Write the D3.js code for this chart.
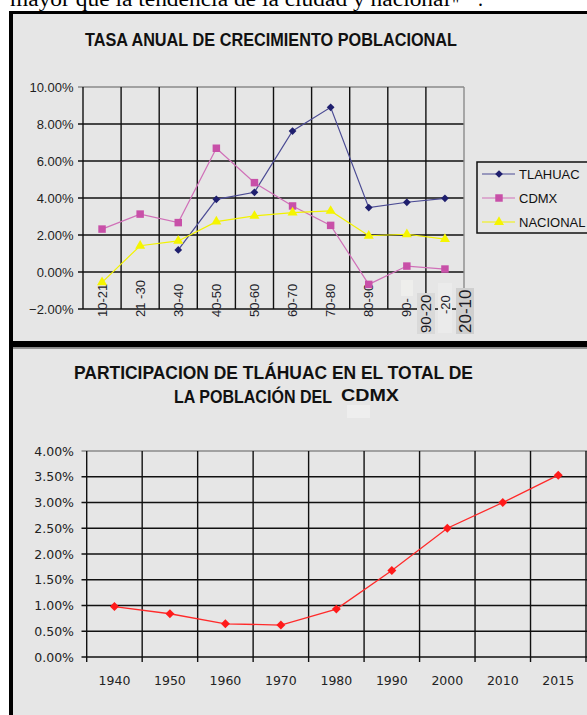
<!DOCTYPE html>
<html>
<head>
<meta charset="utf-8">
<script src="https://cdn.jsdelivr.net/npm/d3@7"></script>
<style>
  body { margin: 0; background: #fff; }
  svg { display: block; }
</style>
</head>
<body>
<svg id="chart" width="587" height="715"></svg>
<script>
// top chart: tasa anual de crecimiento
const periods = ['10-21', '21 -30', '30-40', '40-50', '50-60', '60-70', '70-80', '80-90', '90-', '-20'];
const tlahuac = [null, null, 0.0119, 0.0393, 0.0431, 0.0762, 0.089, 0.0348, 0.0377, 0.0398];
const cdmx = [0.0232, 0.0313, 0.0267, 0.0669, 0.0483, 0.0357, 0.0252, -0.0067, 0.0032, 0.0016];
const nacional = [-0.0056, 0.0142, 0.0168, 0.0272, 0.0303, 0.0321, 0.033, 0.0196, 0.0204, 0.0178];
const topTicks = [-0.02, 0, 0.02, 0.04, 0.06, 0.08, 0.10];

// bottom chart: participacion de tlahuac
const years = ['1940', '1950', '1960', '1970', '1980', '1990', '2000', '2010', '2015'];
const participacion = [0.0098, 0.0084, 0.00645, 0.0062, 0.0093, 0.0168, 0.025, 0.030, 0.0353];
const bottomTicks = [0, 0.005, 0.01, 0.015, 0.02, 0.025, 0.03, 0.035, 0.04];

const panelFill = '#e6e6e6';
const svg = d3.select('#chart');

// text running above the figure, cut by the page top
svg.append('text')
    .attr('x', 10)
    .attr('y', 6)
    .attr('textLength', 440)
    .attr('lengthAdjust', 'spacingAndGlyphs')
    .style('font', '20px "Liberation Serif", serif')
    .text('mayor que la tendencia de la ciudad y nacional');
svg.append('text')
    .attr('x', 452).attr('y', 11)
    .style('font', '18px "Liberation Serif", serif')
    .text('"');
svg.append('text')
    .attr('x', 478).attr('y', 6)
    .style('font', '20px "Liberation Serif", serif')
    .text('.');

// panels and black frame
svg.append('rect').attr('x', 9).attr('y', 11).attr('width', 578).attr('height', 704).attr('fill', '#000');
svg.append('rect').attr('x', 13).attr('y', 14).attr('width', 574).attr('height', 327).attr('fill', panelFill);
svg.append('rect').attr('x', 13).attr('y', 347).attr('width', 574).attr('height', 1.5).attr('fill', '#8a8a8a');
svg.append('rect').attr('x', 13).attr('y', 348.5).attr('width', 574).attr('height', 367).attr('fill', panelFill);

const fmt = d3.format('.2%');

function boldTitle(text, x, y, width, size) {
    svg.append('text')
        .attr('x', x)
        .attr('y', y)
        .attr('textLength', width)
        .attr('lengthAdjust', 'spacingAndGlyphs')
        .style('font', `bold ${size}px "Liberation Sans", Arial, sans-serif`)
        .attr('fill', '#111')
        .text(text);
}

// ---------- top chart ----------
const xTop = d3.scaleBand().domain(periods).range([83, 464]);
const yTop = d3.scaleLinear().domain([-0.02, 0.10]).range([309, 87]);
const cx = p => xTop(p) + xTop.bandwidth() / 2;

boldTitle('TASA ANUAL DE CRECIMIENTO POBLACIONAL', 85, 46, 372, 18);

const gTop = svg.append('g');

gTop.selectAll('line.h')
    .data(topTicks)
    .join('line')
    .attr('x1', 78).attr('x2', 464)
    .attr('y1', d => yTop(d)).attr('y2', d => yTop(d))
    .attr('stroke', d => d === 0.10 ? '#8a8a8a' : '#111')
    .attr('stroke-width', 1.4);

gTop.selectAll('line.v')
    .data(periods.slice(1))
    .join('line')
    .attr('x1', d => xTop(d)).attr('x2', d => xTop(d))
    .attr('y1', yTop(0.10)).attr('y2', yTop(-0.02))
    .attr('stroke', '#111')
    .attr('stroke-width', 1.4);

gTop.append('line')
    .attr('x1', 464).attr('x2', 464)
    .attr('y1', yTop(0.10)).attr('y2', yTop(-0.02))
    .attr('stroke', '#8a8a8a').attr('stroke-width', 1.4);
gTop.append('line')
    .attr('x1', 83).attr('x2', 83)
    .attr('y1', yTop(0.10)).attr('y2', yTop(-0.02))
    .attr('stroke', '#111').attr('stroke-width', 1.4);

gTop.selectAll('text.y')
    .data(topTicks)
    .join('text')
    .attr('x', 73.5)
    .attr('y', d => yTop(d))
    .attr('dy', '0.36em')
    .attr('text-anchor', 'end')
    .attr('fill', '#1e1e1e')
    .style('font', '13px "Liberation Sans", Arial, sans-serif')
    .text(fmt);

// patches left over in the picture round the last labels
gTop.append('rect').attr('x', 401).attr('y', 280).attr('width', 12).attr('height', 16).attr('fill', '#eeeeec');
gTop.append('rect').attr('x', 438).attr('y', 283).attr('width', 14).attr('height', 50).attr('fill', '#ebebeb');
gTop.append('rect').attr('x', 417).attr('y', 293).attr('width', 18).attr('height', 41).attr('fill', '#d9d9d9');
gTop.append('rect').attr('x', 456).attr('y', 288).attr('width', 18).attr('height', 46).attr('fill', '#cfcfcf');

gTop.selectAll('text.x')
    .data(periods)
    .join('text')
    .attr('transform', d => `translate(${cx(d)},${d === '-20' ? 314 : 317}) rotate(-90)`)
    .attr('dy', '0.35em')
    .attr('fill', '#1e1e2a')
    .style('font', '13px "Liberation Sans", Arial, sans-serif')
    .text(d => d);

gTop.append('text')
    .attr('transform', 'translate(426,333) rotate(-90)')
    .attr('dy', '0.35em')
    .attr('fill', '#1a1a22')
    .style('font', '15px "Liberation Sans", Arial, sans-serif')
    .text('90-20');
gTop.append('text')
    .attr('transform', 'translate(465.5,333) rotate(-90)')
    .attr('dy', '0.35em')
    .attr('fill', '#1a1a22')
    .style('font', '17px "Liberation Sans", Arial, sans-serif')
    .text('20-10');

const series = [
    { name: 'TLAHUAC', values: tlahuac, line: '#4b4b94', fill: '#1f1f6e', symbol: d3.symbolSquare, size: 30, rotate: 45 },
    { name: 'CDMX', values: cdmx, line: '#d070b8', fill: '#c850a8', symbol: d3.symbolSquare, size: 56, rotate: 0 },
    { name: 'NACIONAL', values: nacional, line: '#f2f200', fill: '#f5f500', symbol: d3.symbolTriangle, size: 44, rotate: 0 }
];

const lineTop = d3.line()
    .defined(d => d.v !== null)
    .x(d => cx(d.p))
    .y(d => yTop(d.v));

series.forEach(s => {
    const pts = periods.map((p, i) => ({ p, v: s.values[i] }));
    gTop.append('path')
        .datum(pts)
        .attr('fill', 'none')
        .attr('stroke', s.line)
        .attr('stroke-width', 1.2)
        .attr('d', lineTop);
    gTop.selectAll(null)
        .data(pts.filter(d => d.v !== null))
        .join('path')
        .attr('transform', d => `translate(${cx(d.p)},${yTop(d.v)}) rotate(${s.rotate})`)
        .attr('d', d3.symbol(s.symbol, s.size))
        .attr('fill', s.fill);
});

// legend
const legend = svg.append('g').attr('transform', 'translate(477,162)');
legend.append('rect')
    .attr('width', 120).attr('height', 71)
    .attr('fill', panelFill)
    .attr('stroke', '#111').attr('stroke-width', 1.5);
series.forEach((s, i) => {
    const row = legend.append('g').attr('transform', `translate(0,${12 + i * 24})`);
    row.append('line')
        .attr('x1', 5).attr('x2', 38)
        .attr('stroke', s.line).attr('stroke-width', 1.2);
    row.append('path')
        .attr('transform', `translate(22,0) rotate(${s.rotate})`)
        .attr('d', d3.symbol(s.symbol, s.size))
        .attr('fill', s.fill);
    row.append('text')
        .attr('x', 42)
        .attr('dy', '0.36em')
        .attr('fill', '#111')
        .style('font', '13px "Liberation Sans", Arial, sans-serif')
        .text(s.name);
});

// ---------- bottom chart ----------
const xBot = d3.scaleBand().domain(years).range([86.7, 586]);
const yBot = d3.scaleLinear().domain([0, 0.04]).range([657, 451]);
const bx = y => xBot(y) + xBot.bandwidth() / 2;

boldTitle('PARTICIPACION DE TLÁHUAC EN EL TOTAL DE', 74, 379, 399, 18);
boldTitle('LA POBLACIÓN DEL', 174, 403, 158, 18);
svg.append('rect').attr('x', 347).attr('y', 405).attr('width', 23).attr('height', 13).attr('fill', '#eeeeee');
boldTitle('CDMX', 341, 401, 58, 17);

const gBot = svg.append('g');

gBot.selectAll('line.h')
    .data(bottomTicks)
    .join('line')
    .attr('x1', 81.5).attr('x2', 587)
    .attr('y1', d => yBot(d)).attr('y2', d => yBot(d))
    .attr('stroke', d => d === 0.04 ? '#8a8a8a' : '#111')
    .attr('stroke-width', 1.4);

gBot.selectAll('line.v')
    .data(years.concat(['end']))
    .join('line')
    .attr('x1', d => d === 'end' ? 586 : xBot(d))
    .attr('x2', d => d === 'end' ? 586 : xBot(d))
    .attr('y1', yBot(0.04)).attr('y2', yBot(0) + 5)
    .attr('stroke', '#111')
    .attr('stroke-width', 1.4);

gBot.selectAll('text.y')
    .data(bottomTicks)
    .join('text')
    .attr('x', 74)
    .attr('y', d => yBot(d))
    .attr('dy', '0.36em')
    .attr('text-anchor', 'end')
    .attr('fill', '#222')
    .style('font', '12.5px "DejaVu Sans", Verdana, sans-serif')
    .text(fmt);

gBot.selectAll('text.x')
    .data(years)
    .join('text')
    .attr('x', d => bx(d))
    .attr('y', 685)
    .attr('text-anchor', 'middle')
    .attr('fill', '#222')
    .style('font', '12.5px "DejaVu Sans", Verdana, sans-serif')
    .text(d => d);

gBot.append('path')
    .datum(participacion)
    .attr('fill', 'none')
    .attr('stroke', '#ff2a2a')
    .attr('stroke-width', 1.3)
    .attr('d', d3.line().x((d, i) => bx(years[i])).y(d => yBot(d)));

gBot.selectAll(null)
    .data(participacion)
    .join('path')
    .attr('transform', (d, i) => `translate(${bx(years[i])},${yBot(d)}) rotate(45)`)
    .attr('d', d3.symbol(d3.symbolSquare, 40))
    .attr('fill', '#ff1a1a');
</script>
</body>
</html>
